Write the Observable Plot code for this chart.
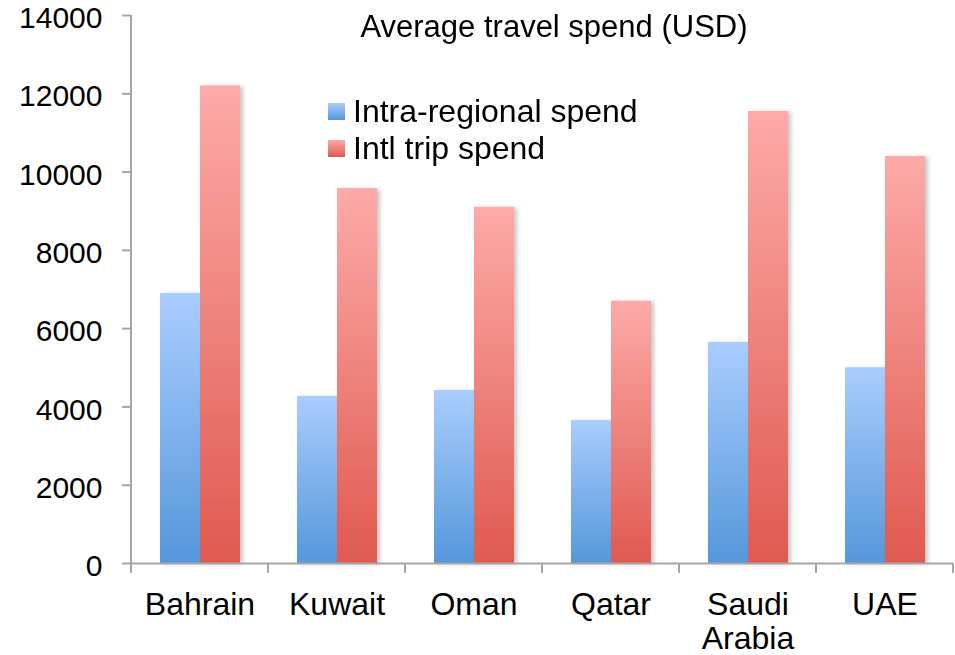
<!DOCTYPE html>
<html><head><meta charset="utf-8">
<script src="https://cdn.jsdelivr.net/npm/d3@7"></script>
<script src="https://cdn.jsdelivr.net/npm/@observablehq/plot@0.6"></script>
<style>
body{margin:0;background:#fff;font-family:"Liberation Sans",Arial,Helvetica,sans-serif;}
#wrap{position:relative;width:955px;height:655px;overflow:hidden;}
#chart{position:absolute;left:0;top:8px;}
#title{position:absolute;left:354px;width:400px;top:11px;text-align:center;font-size:31px;line-height:31px;color:#000;white-space:nowrap;}
#legend{position:absolute;left:328px;top:93px;font-size:32px;line-height:37px;color:#000;}
.item{position:relative;height:37px;padding-left:25px;white-space:nowrap;}
.sw{position:absolute;left:0;top:10px;width:17px;height:17px;}
</style></head><body>
<div id="wrap"><div id="chart"></div>
<div id="title">Average travel spend (USD)</div>
<div id="legend"></div>
</div>
<script>
const countries = ["Bahrain","Kuwait","Oman","Qatar","Saudi Arabia","UAE"];
const seriesNames = ["Intra-regional spend","Intl trip spend"];
const intraSpend = [6900,4270,4420,3650,5650,5000];
const intlSpend = [12200,9580,9100,6700,11550,10400];
const yTicks = [0,2000,4000,6000,8000,10000,12000,14000];
const seriesTop = ["#a9cdfd","#fdaaa8"];
const seriesBottom = ["#5597db","#df5a50"];

const rows = countries.flatMap((c,i)=>[
  {country:c, series:seriesNames[0], value:intraSpend[i]},
  {country:c, series:seriesNames[1], value:intlSpend[i]}
]);

const plot = Plot.plot({
  width:955, height:647,
  marginLeft:129, marginRight:0, marginTop:7, marginBottom:92,
  style:{fontFamily:"Liberation Sans, Arial, sans-serif", background:"white", color:"black", overflow:"visible"},
  fx:{domain:countries, padding:0, label:null},
  x:{domain:seriesNames, paddingInner:0, paddingOuter:0.7, axis:null},
  y:{domain:[0,14000], label:null},
  marks:[
    Plot.barY(rows.filter(d=>d.series===seriesNames[0]), {fx:"country", x:"series", y:"value", fill:"url(#gSeries0)"}),
    Plot.barY(rows.filter(d=>d.series===seriesNames[1]), {fx:"country", x:"series", y:"value", fill:"url(#gSeries1)"}),
    Plot.ruleY([0], {stroke:"#a6a6a6", strokeWidth:2}),
    Plot.axisY(yTicks, {tickSize:9, stroke:"#a6a6a6", strokeWidth:2, fill:"none", label:null}),
    Plot.axisY(yTicks, {tickSize:0, tickPadding:29, fontSize:30, fill:"black", dy:3, tickFormat:d3.format("d"), label:null}),
    Plot.axisFx({anchor:"bottom", tickSize:0, tickPadding:28, fontSize:32, lineHeight:1.05, fill:"black", tickFormat:d=>d.replace(" ","\n"), label:null})
  ]
});

const svg = d3.select(plot);
const defs = svg.insert("defs",":first-child");
seriesNames.forEach((s,i)=>{
  const g = defs.append("linearGradient").attr("id","gSeries"+i).attr("x1",0).attr("y1",0).attr("x2",0).attr("y2",1);
  g.append("stop").attr("offset","0%").attr("stop-color",seriesTop[i]);
  g.append("stop").attr("offset","100%").attr("stop-color",seriesBottom[i]);
});
const f = defs.append("filter").attr("id","shadow").attr("x","-20%").attr("y","-5%").attr("width","140%").attr("height","110%");
f.append("feDropShadow").attr("dx",3).attr("dy",1).attr("stdDeviation",2).attr("flood-color","#000").attr("flood-opacity",0.22);
svg.selectAll('g[aria-label="bar"]').attr("filter","url(#shadow)");

// axis line and category boundary ticks via Plot's scales
const fx = plot.scale("fx"), y = plot.scale("y");
const x0 = fx.apply(countries[0]);
const y0 = y.apply(0), yTop = y.apply(14000);
const bounds = countries.map(c=>fx.apply(c)).concat([fx.apply(countries[countries.length-1])+fx.bandwidth]);
const ax = svg.append("g").attr("stroke","#a6a6a6").attr("stroke-width",2);
ax.append("line").attr("x1",x0).attr("x2",x0).attr("y1",yTop).attr("y2",y0);
bounds.forEach(b=>ax.append("line").attr("x1",b).attr("x2",b).attr("y1",y0).attr("y2",y0+10));

document.getElementById("chart").appendChild(plot);

const legend = d3.select("#legend");
seriesNames.forEach((s,i)=>{
  const it = legend.append("div").attr("class","item");
  it.append("span").attr("class","sw").style("background",`linear-gradient(${seriesTop[i]}, ${seriesBottom[i]})`);
  it.append("span").text(s);
});
</script>
</body></html>
